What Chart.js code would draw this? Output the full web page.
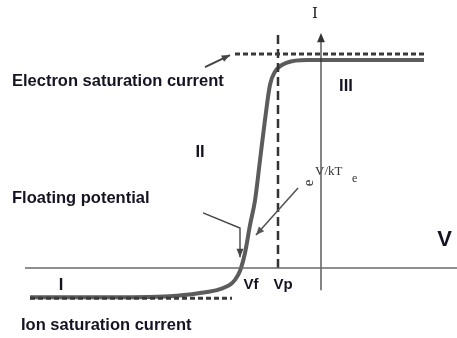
<!DOCTYPE html>
<html>
<head>
<meta charset="utf-8">
<script src="https://cdn.jsdelivr.net/npm/chart.js@4.4.1/dist/chart.umd.min.js"></script>
<style>
  html, body { margin: 0; padding: 0; background: #fff; }
  #wrap { width: 457px; height: 338px; }
</style>
</head>
<body>
<div id="wrap"><canvas id="probeChart" width="457" height="338"></canvas></div>
<script>
// Langmuir probe I-V characteristic (sketch units: V = probe bias, I = probe current)

// probe curve
const curveV = [-14.55, -11.05, -7.55, -6.05, -5.05, -4.45, -4.15, -4.0, -3.8, -3.55, -3.3, -3.05, -2.8, -2.55, -2.3, -1.7, -0.7, 5.15];
const curveI = [-1.12, -1.12, -1.08, -0.96, -0.81, -0.58, -0.27, 0.0, 0.58, 1.65, 2.6, 4.15, 5.7, 7.05, 7.55, 7.9, 8.0, 8.0];

// reference levels
const elecSatI = 8.23;
const elecSatRange = [-4.3, 5.15];
const ionSatI = -1.12;
const ionSatRange = [-14.55, -4.45];
const Vf = -4.0;
const Vp = -2.15;
const VpTop = 9.04;

// axes
const vAxisRange = [-14.8, 6.8];
const iAxisRange = [-0.85, 8.96];

const INK = '#141424';

function seg(x1, y1, x2, y2) {
    return [{ x: x1, y: y1 }, { x: x2, y: y2 }];
}

const annotate = {
    id: 'annotate',
    afterDatasetsDraw(chart) {
        const ctx = chart.ctx;
        const xs = chart.scales.x, ys = chart.scales.y;
        const px = v => xs.getPixelForValue(v);
        const py = v => ys.getPixelForValue(v);

        function text(str, x, y, font, align) {
            ctx.save();
            ctx.fillStyle = INK;
            ctx.font = font;
            ctx.textAlign = align || 'center';
            ctx.textBaseline = 'middle';
            ctx.fillText(str, px(x), py(y));
            ctx.restore();
        }

        function head(x1, y1, x2, y2, size) {
            const a = Math.atan2(y2 - y1, x2 - x1);
            ctx.beginPath();
            ctx.moveTo(x2, y2);
            ctx.lineTo(x2 - size * Math.cos(a - 0.4), y2 - size * Math.sin(a - 0.4));
            ctx.lineTo(x2 - size * Math.cos(a + 0.4), y2 - size * Math.sin(a + 0.4));
            ctx.closePath();
            ctx.fill();
        }

        function arrow(pts, color, width) {
            ctx.save();
            ctx.strokeStyle = color;
            ctx.fillStyle = color;
            ctx.lineWidth = width;
            ctx.beginPath();
            pts.forEach((p, i) => {
                if (i === 0) ctx.moveTo(px(p[0]), py(p[1]));
                else ctx.lineTo(px(p[0]), py(p[1]));
            });
            ctx.stroke();
            const n = pts.length;
            head(px(pts[n - 2][0]), py(pts[n - 2][1]), px(pts[n - 1][0]), py(pts[n - 1][1]), 9);
            ctx.restore();
        }

        // arrow tip on the current axis
        ctx.save();
        ctx.fillStyle = '#333';
        head(px(0), py(iAxisRange[1]) + 10, px(0), py(iAxisRange[1]) - 2, 10);
        ctx.restore();

        // pointer arrows
        arrow([[-5.8, 7.73], [-4.55, 8.19]], '#444', 2);
        arrow([[-1.15, 3.08], [-3.25, 1.27]], '#555', 1.6);
        arrow([[-5.9, 2.12], [-4.05, 1.54], [-4.05, 0.42]], '#444', 1.4);

        const sans = 'bold 16.5px "Liberation Sans", Arial, sans-serif';
        text('Electron saturation current', -15.45, 7.19, sans, 'left');
        text('Floating potential', -15.45, 2.69, sans, 'left');
        text('Ion saturation current', -15.0, -2.19, sans, 'left');
        text('III', 1.25, 7.0, sans);
        text('II', -6.05, 4.46, sans);
        text('I', -13.0, -0.65, sans);
        const small = 'bold 15px "Liberation Sans", Arial, sans-serif';
        text('Vf', -3.5, -0.65, small);
        text('Vp', -1.9, -0.65, small);
        text('V', 6.18, 1.08, 'bold 22px "Liberation Sans", Arial, sans-serif');
        text('I', -0.3, 9.75, '15px "DejaVu Serif", serif');

        // e^{V/kT_e} label, the "e" is turned on its side
        ctx.save();
        ctx.fillStyle = '#333';
        ctx.font = '15px "Liberation Serif", serif';
        ctx.textAlign = 'center';
        ctx.textBaseline = 'middle';
        ctx.translate(px(-0.6), py(3.27));
        ctx.rotate(-Math.PI / 2);
        ctx.fillText('e', 0, 0);
        ctx.restore();
        ctx.save();
        ctx.fillStyle = '#333';
        ctx.font = '13px "Liberation Serif", serif';
        ctx.textAlign = 'left';
        ctx.textBaseline = 'middle';
        ctx.fillText('V/kT', px(-0.3), py(3.72));
        ctx.font = '12px "Liberation Serif", serif';
        ctx.fillText('e', px(1.55), py(3.42));
        ctx.restore();
    }
};

const ctx = document.getElementById('probeChart').getContext('2d');
new Chart(ctx, {
    type: 'scatter',
    data: {
        datasets: [
            {
                label: 'V axis',
                data: seg(vAxisRange[0], 0, vAxisRange[1], 0),
                showLine: true, borderColor: '#6a6a6a', borderWidth: 1.5, pointRadius: 0
            },
            {
                label: 'I axis',
                data: seg(0, iAxisRange[0], 0, iAxisRange[1]),
                showLine: true, borderColor: '#333', borderWidth: 1.2, pointRadius: 0
            },
            {
                label: 'Electron saturation',
                data: seg(elecSatRange[0], elecSatI, elecSatRange[1], elecSatI),
                showLine: true, borderColor: '#3a3a3a', borderWidth: 3, borderDash: [5, 3], pointRadius: 0
            },
            {
                label: 'Ion saturation',
                data: seg(ionSatRange[0], ionSatI - 0.04, ionSatRange[1], ionSatI - 0.04),
                showLine: true, borderColor: '#3a3a3a', borderWidth: 3, borderDash: [5, 3], pointRadius: 0
            },
            {
                label: 'Vp',
                data: seg(Vp, 0, Vp, VpTop),
                showLine: true, borderColor: '#333', borderWidth: 2.5, borderDash: [9, 5], pointRadius: 0
            },
            {
                label: 'Probe current',
                data: curveV.map((v, i) => ({ x: v, y: curveI[i] })),
                showLine: true, borderColor: '#5c5c5c', borderWidth: 4, pointRadius: 0,
                cubicInterpolationMode: 'monotone'
            }
        ]
    },
    options: {
        responsive: false,
        animation: false,
        layout: { padding: 0 },
        plugins: { legend: { display: false }, tooltip: { enabled: false } },
        scales: {
            x: { type: 'linear', display: false, min: -16.05, max: 6.8 },
            y: { type: 'linear', display: false, min: -2.69, max: 10.31 }
        }
    },
    plugins: [annotate]
});
</script>
</body>
</html>
